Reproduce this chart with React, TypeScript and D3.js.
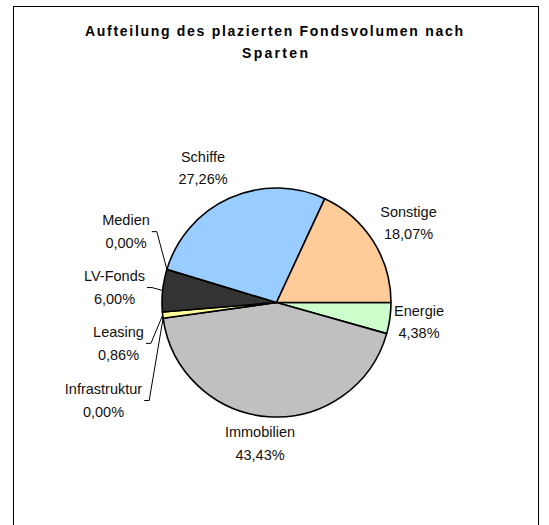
import React from "react";
import * as d3 from "d3";

const categories = ["Energie", "Immobilien", "Infrastruktur", "Leasing", "LV-Fonds", "Medien", "Schiffe", "Sonstige"];
const shares = [4.38, 43.43, 0, 0.86, 6.0, 0, 27.26, 18.07];
const colors = ["#CCFFCC", "#C0C0C0", "#9999FF", "#FFFF99", "#333333", "#993366", "#99CCFF", "#FFCC99"];
const titleLines = ["Aufteilung des plazierten Fondsvolumen nach", "Sparten"];

// label layout (block centre x, first line centre y) and whether a leader line is drawn
const labelCenters: [number, number][] = [
  [419, 310.5],
  [260, 432],
  [103.5, 389.3],
  [118.5, 332.1],
  [114.5, 276.3],
  [126, 220.4],
  [203, 156.5],
  [408.5, 211.5],
];
const hasLeader = [false, false, true, true, true, true, false, false];

const W = 549;
const H = 525;
const cx = 276.5;
const cy = 302.5;
const R = 114.5;
const FONT = "'Liberation Sans', Arial, Helvetica, sans-serif";
const LABEL_SIZE = 14.5;
const LINE_GAP = 22.5;

function measure(text: string, size: number, weight = "normal") {
  const c = document.createElement("canvas");
  const ctx = c.getContext("2d");
  if (!ctx) return text.length * size * 0.55;
  ctx.font = `${weight} ${size}px ${FONT}`;
  return ctx.measureText(text).width;
}

const fmt = (v: number) => d3.format(".2f")(v).replace(".", ",") + "%";

export default function App() {
  const data = categories.map((c, i) => ({ name: c, value: shares[i], color: colors[i], idx: i }));
  const pie = d3
    .pie<any>()
    .value((d) => d.value)
    .sort(null)
    .startAngle(Math.PI / 2)
    .endAngle(Math.PI / 2 + 2 * Math.PI);
  const arcs = pie(data);
  const arc = d3.arc<any>().innerRadius(0).outerRadius(R);

  return (
    <svg width={W} height={H} style={{ position: "absolute", left: 0, top: 0, background: "#fff" }}>
      <rect x={13.5} y={6.5} width={525} height={540} fill="#fff" stroke="#000" strokeWidth={1} />
      <text x={274} y={35.5} textAnchor="middle" fontFamily={FONT} fontWeight="bold" fontSize={14} textLength={378} lengthAdjust="spacing" fill="#000">
        {titleLines[0]}
      </text>
      <text x={275} y={57.5} textAnchor="middle" fontFamily={FONT} fontWeight="bold" fontSize={14} textLength={66} lengthAdjust="spacing" fill="#000">
        {titleLines[1]}
      </text>
      <g transform={`translate(${cx},${cy})`}>
        {arcs
          .filter((a) => a.data.value > 0)
          .map((a) => (
            <path key={a.data.name} d={arc(a) as string} fill={a.data.color} stroke="#000" strokeWidth={1.6} strokeLinejoin="round" />
          ))}
      </g>
      {arcs.map((a, i) => {
        const [lx, ly] = labelCenters[i];
        const name = a.data.name;
        const pct = fmt(a.data.value);
        const mid = (a.startAngle + a.endAngle) / 2;
        const px = cx + R * Math.sin(mid);
        const py = cy - R * Math.cos(mid);
        const w = Math.max(measure(name, LABEL_SIZE), measure(pct, LABEL_SIZE));
        const sx = lx + w / 2 + 2;
        const sy = ly + LINE_GAP / 2;
        return (
          <g key={name}>
            {hasLeader[i] && (
              <polyline points={`${sx},${sy} ${sx + 5},${sy} ${px},${py}`} fill="none" stroke="#000" strokeWidth={1} />
            )}
            <text x={lx} y={ly + 5} textAnchor="middle" fontFamily={FONT} fontSize={LABEL_SIZE} fill="#111">
              {name}
            </text>
            <text x={lx} y={ly + LINE_GAP + 5} textAnchor="middle" fontFamily={FONT} fontSize={LABEL_SIZE} fill="#111">
              {pct}
            </text>
          </g>
        );
      })}
    </svg>
  );
}
